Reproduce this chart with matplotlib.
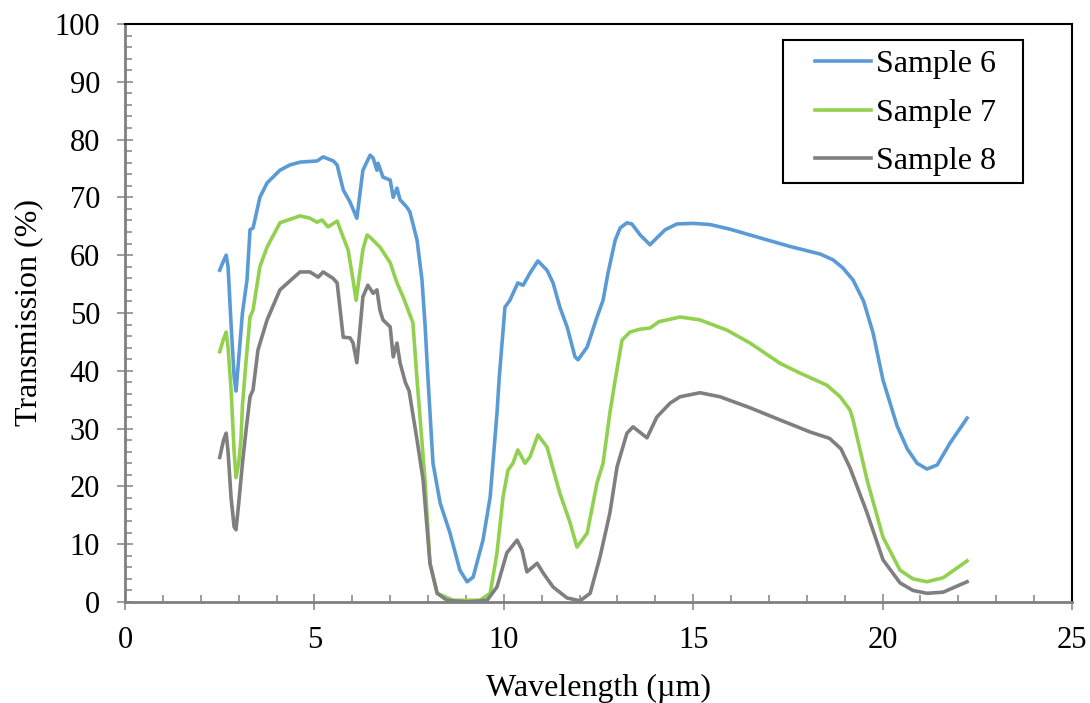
import matplotlib.pyplot as plt
from matplotlib.patches import Rectangle
from matplotlib.ticker import MultipleLocator

plt.rcParams['font.family'] = ['Liberation Serif', 'DejaVu Serif']

# Sample 6 (blue)
x6 = [2.5, 2.6, 2.67, 2.72, 2.8, 2.88, 2.93, 3.0, 3.1, 3.22, 3.3, 3.38, 3.56, 3.75, 4.09,
      4.35, 4.62, 5.07, 5.23, 5.5, 5.6, 5.76, 5.94, 6.12, 6.28, 6.47, 6.55, 6.65, 6.68, 6.81,
      7.0, 7.08, 7.18, 7.26, 7.44, 7.52, 7.71, 7.84, 7.92, 8.0, 8.13, 8.32, 8.58, 8.84, 9.03,
      9.19, 9.45, 9.64, 9.82, 9.88, 10.03, 10.16, 10.37, 10.51, 10.69, 10.9, 11.14, 11.3,
      11.48, 11.67, 11.88, 11.96, 12.2, 12.46, 12.62, 12.75, 12.94, 13.07, 13.25, 13.38,
      13.6, 13.86, 14.04, 14.26, 14.57, 15.0, 15.44, 15.97, 16.76, 17.56, 18.35, 18.69,
      18.95, 19.22, 19.5, 19.75, 20.01, 20.38, 20.65, 20.91, 21.17, 21.44, 21.78, 22.23]
y6 = [57.4, 59.0, 60.0, 58.0, 48.0, 39.0, 36.5, 42.0, 50.0, 55.7, 64.4, 64.7, 70.0, 72.5, 74.7,
      75.6, 76.1, 76.3, 77.0, 76.3, 75.6, 71.3, 69.2, 66.4, 74.7, 77.3, 76.8, 74.7, 75.9, 73.5,
      73.0, 70.0, 71.6, 69.6, 68.3, 67.5, 62.6, 55.7, 48.0, 38.4, 24.0, 17.1, 11.9, 5.5, 3.5,
      4.3, 10.7, 18.2, 32.7, 38.9, 51.0, 52.2, 55.2, 54.8, 56.9, 59.0, 57.4, 55.2,
      51.0, 47.6, 42.4, 41.9, 44.1, 49.3, 52.2, 56.9, 62.6, 64.7, 65.6, 65.4,
      63.5, 61.8, 63.0, 64.4, 65.4, 65.5, 65.3, 64.5, 63.0, 61.5, 60.2, 59.2,
      57.8, 55.7, 52.0, 46.5, 38.4, 30.5, 26.5, 24.0, 23.0, 23.7, 27.5, 31.8]

# Sample 7 (green)
x7 = [2.5, 2.6, 2.67, 2.72, 2.8, 2.88, 2.93, 3.0, 3.06, 3.1, 3.2, 3.3, 3.38, 3.56, 3.75,
      4.09, 4.62, 4.88, 5.07, 5.2, 5.36, 5.6, 5.76, 5.89, 6.02, 6.1, 6.28, 6.39, 6.47, 6.73,
      7.0, 7.18, 7.34, 7.6, 7.71, 7.92, 8.05, 8.24, 8.66, 9.37, 9.64, 9.82, 9.98, 10.11,
      10.24, 10.37, 10.56, 10.69, 10.9, 11.14, 11.48, 11.75, 11.93, 12.2, 12.46, 12.62,
      12.8, 12.94, 13.12, 13.33, 13.6, 13.86, 14.1, 14.65, 15.18, 15.9, 16.5, 17.29, 17.82,
      18.53, 18.88, 19.14, 19.22, 19.59, 20.01, 20.46, 20.8, 21.17, 21.6, 22.23]
y7 = [43.3, 45.5, 46.7, 44.0, 36.7, 26.0, 21.5, 24.0, 28.0, 34.0, 42.0, 49.3, 50.5, 58.0, 61.4,
      65.6, 66.8, 66.4, 65.7, 66.1, 64.9, 65.9, 63.1, 60.9, 55.7, 52.2, 61.0, 63.5, 63.1, 61.4,
      58.7, 55.2, 52.8, 48.3, 38.4, 21.0, 6.7, 1.5, 0.3, 0.3, 1.5, 8.5, 18.2, 22.8,
      24.0, 26.3, 24.0, 25.1, 28.9, 26.8, 18.8, 13.7, 9.5, 11.9, 20.6, 24.0,
      32.7, 38.4, 45.3, 46.7, 47.2, 47.4, 48.5, 49.3, 48.8, 47.0, 44.8, 41.3, 39.6,
      37.5, 35.5, 33.2, 31.5, 21.1, 11.2, 5.5, 4.0, 3.5, 4.2, 7.1]

# Sample 8 (gray)
x8 = [2.5, 2.6, 2.67, 2.72, 2.8, 2.88, 2.93, 3.0, 3.1, 3.2, 3.3, 3.38, 3.51, 3.75, 4.09,
      4.62, 4.88, 5.1, 5.23, 5.49, 5.6, 5.76, 5.94, 6.02, 6.12, 6.28, 6.41, 6.55, 6.65, 6.73,
      6.81, 7.0, 7.08, 7.18, 7.26, 7.4, 7.5, 7.71, 7.87, 8.05, 8.24, 8.5, 9.03, 9.56, 9.82,
      10.08, 10.35, 10.48, 10.61, 10.88, 11.04, 11.3, 11.67, 12.01, 12.28, 12.54, 12.8,
      12.99, 13.25, 13.41, 13.78, 14.04, 14.39, 14.65, 15.18, 15.71, 16.5, 17.29, 18.09,
      18.6, 18.9, 19.14, 19.59, 20.01, 20.46, 20.8, 21.17, 21.6, 22.23]
y8 = [25.0, 28.0, 29.2, 26.0, 18.0, 13.0, 12.5, 17.0, 24.0, 30.0, 35.5, 36.7, 43.6, 48.8, 54.0,
      57.1, 57.1, 56.2, 57.1, 56.0, 55.2, 45.8, 45.7, 44.8, 41.4, 52.8, 54.8, 53.4, 54.0, 50.5,
      48.8, 47.6, 42.4, 44.8, 41.4, 38.0, 36.5, 28.0, 21.1, 6.7, 1.5, 0.3, 0.0, 0.3, 2.6,
      8.5, 10.7, 9.0, 5.2, 6.7, 5.0, 2.6, 0.7, 0.2, 1.5, 7.8, 15.4,
      23.4, 29.2, 30.3, 28.4, 32.0, 34.4, 35.5, 36.2, 35.5, 33.6, 31.5, 29.4,
      28.3, 26.5, 23.2, 15.4, 7.3, 3.3, 2.0, 1.5, 1.7, 3.5]

labels = ['Sample 6', 'Sample 7', 'Sample 8']
colors = ['#5B9BD5', '#92D050', '#7F7F7F']

fig = plt.figure(figsize=(10.9, 7.03), dpi=100)
ax = fig.add_axes([0.1147, 0.1437, 0.8688, 0.8222])

for xs, ys, lab, c in zip([x6, x7, x8], [y6, y7, y8], labels, colors):
    ax.plot(xs, ys, color=c, lw=2.6, label=lab, solid_joinstyle='round')

ax.set_xlim(0, 25)
ax.set_ylim(0, 100)
ax.xaxis.set_major_locator(MultipleLocator(5))
ax.xaxis.set_minor_locator(MultipleLocator(1))
ax.yaxis.set_major_locator(MultipleLocator(10))
ax.yaxis.set_minor_locator(MultipleLocator(2))

ax.tick_params(which='major', direction='inout', length=12, width=1.2, colors='#8C8C8C',
               labelcolor='black', labelsize=22)
ax.tick_params(axis='x', which='major', pad=11)
ax.tick_params(axis='y', which='major', pad=12)
ax.tick_params(which='minor', direction='in', length=5, width=1.2, colors='#8C8C8C')

ax.spines['left'].set_color('#7F7F7F')
ax.spines['bottom'].set_color('#7F7F7F')
ax.spines['left'].set_linewidth(2)
ax.spines['bottom'].set_linewidth(2)
ax.spines['top'].set_color('black')
ax.spines['right'].set_color('black')
ax.spines['top'].set_linewidth(1.5)
ax.spines['right'].set_linewidth(1.5)

ax.set_xlabel('Wavelength (µm)', fontsize=23, labelpad=14)
ax.set_ylabel('Transmission (%)', fontsize=23, labelpad=8)

# legend box drawn separately so the inner padding matches the original
ax.add_patch(Rectangle((0.695, 0.725), 0.253, 0.247, transform=ax.transAxes,
                       facecolor='white', edgecolor='black', lw=1.5, zorder=5))
leg = ax.legend(loc='upper left', bbox_to_anchor=(0.7286, 0.955), fontsize=23,
                frameon=False, handlelength=1.75, handletextpad=0.15,
                borderpad=0, labelspacing=0.6, borderaxespad=0)
leg.set_zorder(6)

fig.savefig('out.png', dpi=100)
